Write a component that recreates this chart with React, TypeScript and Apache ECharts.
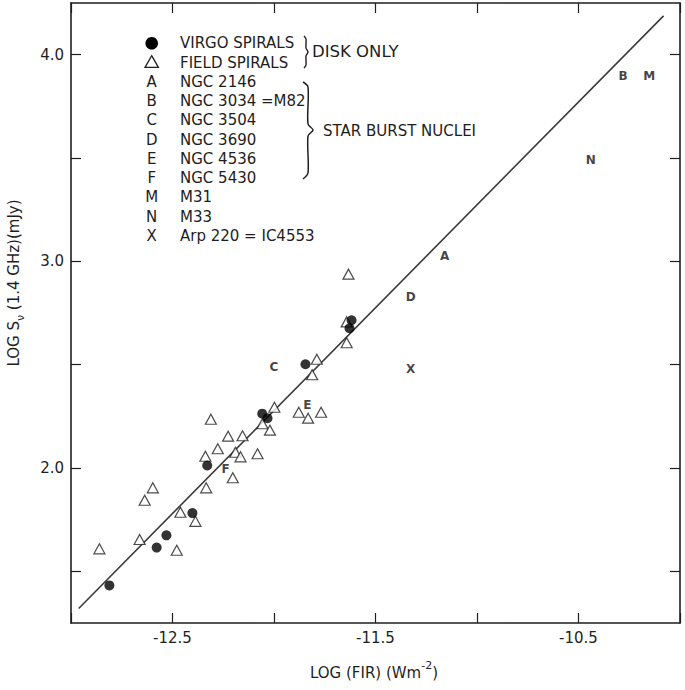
import React, { useEffect, useRef } from "react";
import * as echarts from "echarts";

// ---- data ----
const virgoX = [-12.811, -12.578, -12.53, -12.402, -12.329, -12.058, -12.032, -11.845, -11.618, -11.628];
const virgoY = [1.432, 1.615, 1.674, 1.782, 2.012, 2.263, 2.241, 2.502, 2.715, 2.676];

const fieldX = [-12.86, -12.662, -12.637, -12.597, -12.479, -12.461, -12.387, -12.334, -12.338, -12.277, -12.311, -12.226, -12.155, -12.19, -12.165, -12.203, -12.081, -12.057, -12.02, -11.998, -11.878, -11.832, -11.768, -11.789, -11.812, -11.642, -11.642, -11.633];
const fieldY = [1.609, 1.654, 1.844, 1.904, 1.602, 1.786, 1.742, 1.904, 2.057, 2.093, 2.236, 2.154, 2.156, 2.076, 2.054, 1.953, 2.069, 2.214, 2.183, 2.294, 2.27, 2.241, 2.27, 2.526, 2.451, 2.606, 2.707, 2.938];

const nucleiLetters = ["A", "B", "C", "D", "E", "F", "M", "N", "X"];
const nucleiX = [-11.16, -10.28, -12.0, -11.327, -11.836, -12.239, -10.152, -10.439, -11.327];
const nucleiY = [3.025, 3.896, 2.489, 2.828, 2.304, 1.997, 3.896, 3.49, 2.481];

const fitX = [-12.962, -10.081];
const fitY = [1.32, 4.188];

const xTickLabels = [-12.5, -11.5, -10.5];
const yTicks = [1.5, 2.0, 2.5, 3.0, 3.5, 4.0];
const yTickLabels = [2.0, 3.0, 4.0];

const legendKeys = ["", "", "A", "B", "C", "D", "E", "F", "M", "N", "X"];
const legendNames = [
  "VIRGO SPIRALS",
  "FIELD SPIRALS",
  "NGC 2146",
  "NGC 3034 =M82",
  "NGC 3504",
  "NGC 3690",
  "NGC 4536",
  "NGC 5430",
  "M31",
  "M33",
  "Arp 220 = IC4553",
];

const FONT = "DejaVu Sans";
const INK = "#1e1e1e";

export default function App() {
  const ref = useRef<HTMLDivElement>(null);

  useEffect(() => {
    document.body.style.margin = "0";
    const chart = echarts.init(ref.current!, null, { renderer: "svg" });

    const axisLine = { show: true, onZero: false, lineStyle: { color: INK, width: 1.6 } };
    const axisTick = { show: true, inside: true, length: 10, lineStyle: { color: INK, width: 1.2 } };

    const legendTop = 43.3;
    const legendStep = 19.25;
    const graphics: any[] = [];
    legendNames.forEach((name, i) => {
      const y = legendTop + i * legendStep;
      graphics.push({
        type: "text",
        x: 180,
        y,
        style: { text: name, fill: INK, font: `15px "${FONT}"`, verticalAlign: "middle", align: "left" },
      });
      if (legendKeys[i]) {
        graphics.push({
          type: "text",
          x: 151.7,
          y,
          style: { text: legendKeys[i], fill: INK, font: `15px "${FONT}"`, verticalAlign: "middle", align: "center" },
        });
      }
    });
    graphics.push({
      type: "circle",
      shape: { cx: 151.7, cy: legendTop, r: 6.3 },
      style: { fill: "#000" },
    });
    graphics.push({
      type: "polygon",
      shape: { points: [[151.7, 55.7], [158.4, 67.3], [145, 67.3]] },
      style: { fill: "#fff", stroke: INK, lineWidth: 1.3 },
    });
    // small brace for DISK ONLY
    graphics.push({
      type: "polyline",
      shape: { points: [[304, 36], [306, 39], [306, 48], [308, 52], [306, 56], [306, 65], [304, 68]], smooth: 0.3 },
      style: { stroke: INK, lineWidth: 1.4, fill: "none" },
    });
    // large brace for STAR BURST NUCLEI
    graphics.push({
      type: "polyline",
      shape: { points: [[303, 82], [308, 87], [308, 124], [313, 130], [308, 136], [308, 173], [303, 179]], smooth: 0.3 },
      style: { stroke: INK, lineWidth: 1.5, fill: "none" },
    });
    graphics.push({
      type: "text",
      x: 312,
      y: 51,
      style: { text: "DISK ONLY", fill: INK, font: `16.5px "${FONT}"`, verticalAlign: "middle" },
    });
    graphics.push({
      type: "text",
      x: 323,
      y: 130.5,
      style: { text: "STAR BURST NUCLEI", fill: INK, font: `15px "${FONT}"`, verticalAlign: "middle" },
    });
    // axis names
    graphics.push({
      type: "text",
      x: 374,
      y: 673,
      style: {
        text: "LOG (FIR) (Wm{sup|-2})",
        fill: INK,
        font: `15px "${FONT}"`,
        align: "center",
        verticalAlign: "middle",
        lineHeight: 26,
        rich: {
          sup: { fontSize: 11, fontFamily: FONT, fill: INK, verticalAlign: "top", lineHeight: 11 },
        },
      },
    });
    graphics.push({
      type: "text",
      x: 14,
      y: 283,
      rotation: Math.PI / 2,
      style: {
        text: "LOG S{sub|ν} (1.4 GHz)(mJy)",
        fill: INK,
        font: `15px "${FONT}"`,
        align: "center",
        verticalAlign: "middle",
        lineHeight: 24,
        rich: {
          sub: { fontSize: 11, fontFamily: FONT, fill: INK, verticalAlign: "bottom", lineHeight: 11 },
        },
      },
    });

    chart.setOption({
      animation: false,
      backgroundColor: "#fff",
      grid: { left: 71, right: 5, top: 3, bottom: 67, containLabel: false },
      xAxis: [
        {
          type: "value",
          min: -13,
          max: -10,
          interval: 0.5,
          position: "bottom",
          axisLine,
          axisTick,
          splitLine: { show: false },
          axisLabel: {
            show: true,
            customValues: xTickLabels,
            formatter: (v: number) => v.toFixed(1),
            color: INK,
            fontSize: 15,
            fontFamily: FONT,
            margin: 7,
          },
        },
        {
          type: "value",
          min: -13,
          max: -10,
          interval: 0.5,
          position: "top",
          axisLine,
          axisTick,
          splitLine: { show: false },
          axisLabel: { show: false },
        },
      ],
      yAxis: [
        {
          type: "value",
          min: 1.25,
          max: 4.25,
          position: "left",
          axisLine,
          axisTick: { ...axisTick, customValues: yTicks },
          splitLine: { show: false },
          axisLabel: {
            show: true,
            customValues: yTickLabels,
            formatter: (v: number) => v.toFixed(1),
            color: INK,
            fontSize: 15,
            fontFamily: FONT,
            margin: 7,
          },
        },
        {
          type: "value",
          min: 1.25,
          max: 4.25,
          position: "right",
          axisLine,
          axisTick: { ...axisTick, customValues: yTicks },
          splitLine: { show: false },
          axisLabel: { show: false },
        },
      ],
      graphic: graphics,
      series: [
        {
          type: "line",
          xAxisIndex: 0,
          yAxisIndex: 0,
          data: fitX.map((x, i) => [x, fitY[i]]),
          showSymbol: false,
          symbol: "none",
          lineStyle: { color: "#3a3a3a", width: 1.6 },
          z: 2,
        },
        {
          type: "scatter",
          name: "FIELD SPIRALS",
          xAxisIndex: 0,
          yAxisIndex: 0,
          data: fieldX.map((x, i) => [x, fieldY[i]]),
          symbol: "triangle",
          symbolSize: [11, 10],
          itemStyle: { color: "#fff", borderColor: INK, borderWidth: 1.2 },
          z: 3,
        },
        {
          type: "scatter",
          name: "VIRGO SPIRALS",
          xAxisIndex: 0,
          yAxisIndex: 0,
          data: virgoX.map((x, i) => [x, virgoY[i]]),
          symbol: "circle",
          symbolSize: 10,
          itemStyle: { color: "#000" },
          z: 4,
        },
        {
          type: "scatter",
          name: "NUCLEI",
          xAxisIndex: 0,
          yAxisIndex: 0,
          data: nucleiLetters.map((n, i) => ({ name: n, value: [nucleiX[i], nucleiY[i]] })),
          symbol: "circle",
          symbolSize: 2,
          itemStyle: { color: "rgba(255,255,255,0)" },
          label: {
            show: true,
            position: "inside",
            formatter: (p: any) => p.name,
            color: "#111",
            textBorderWidth: 0,
            textBorderColor: "rgba(0,0,0,0)",
            fontSize: 12,
            fontWeight: "bold",
            fontFamily: FONT,
          },
          z: 5,
        },
      ],
    });

    return () => chart.dispose();
  }, []);

  return (
    <div
      ref={ref}
      style={{ position: "absolute", left: 0, top: 0, width: 685, height: 690, background: "#fff" }}
    />
  );
}
